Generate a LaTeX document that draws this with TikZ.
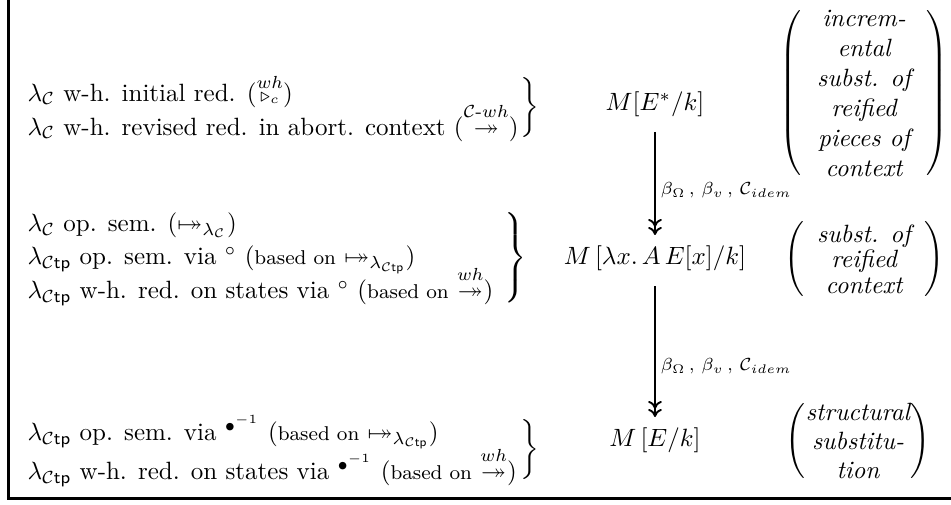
\documentclass[tikz,border=0pt]{standalone}
\usepackage{amsmath,amssymb}
\usetikzlibrary{arrows.meta}
\newcommand{\Ctp}{\mathcal{C}\mathsf{tp}}
\newcommand{\mapsfrom}{\mathrel{\mapstochar\twoheadrightarrow}}
\newcommand{\parblock}[2]{$\left(\parbox{#1}{\centering\itshape #2}\right)$}
\tikzset{
  lefttext/.style={anchor=west,align=left,inner sep=0pt},
  mnode/.style={inner sep=2pt},
  bracenode/.style={inner sep=0pt},
  parennode/.style={inner sep=0pt},
  redarrow/.style={line width=0.75pt,shorten <=4pt,shorten >=2pt,-{Computer Modern Rightarrow[length=3.2pt,width=5.5pt]Computer Modern Rightarrow[length=3.2pt,width=5.5pt]}},
  arrlabel/.style={anchor=west,font=\scriptsize,inner sep=2pt}
}
\begin{document}
\begin{tikzpicture}[x=0.4pt,y=-0.4pt]
\useasboundingbox (0,0) rectangle (951,505);
\draw[line width=1.2pt] (8,-5) -- (8,498) -- (960,498);
% left texts
\node[lefttext] (t1) at (27,112) {$\lambda_{\mathcal C}$ w-h. initial red. ($\smash[t]{\overset{wh}{\scriptstyle\triangleright_c}}$)\\[1.6pt]
$\lambda_{\mathcal C}$ w-h. revised red. in abort. context ($\smash[t]{\overset{\mathcal{C}\text{-}wh}{\twoheadrightarrow}}$)};
\node[lefttext] (t2) at (27,259) {$\lambda_{\mathcal C}$ op. sem. ($\mapsfrom_{\lambda_{\mathcal C}}$)\\[1.4pt]
$\lambda_{\Ctp}$ op. sem. via ${}^{\circ}$ ({\footnotesize based on} $\mapsfrom_{\lambda_{\Ctp}}$)\\[1.4pt]
$\lambda_{\Ctp}$ w-h. red. on states via ${}^{\circ}$ ({\footnotesize based on} $\smash[t]{\overset{wh}{\twoheadrightarrow}}$)};
\node[lefttext] (t3) at (27,451) {$\lambda_{\Ctp}$ op. sem. via ${}^{\bullet^{-1}}$ ({\footnotesize based on} $\mapsfrom_{\lambda_{\Ctp}}$)\\[1.2pt]
$\lambda_{\Ctp}$ w-h. red. on states via ${}^{\bullet^{-1}}$ ({\footnotesize based on} $\smash[t]{\overset{wh}{\twoheadrightarrow}}$)};
% braces
\node[bracenode] (b1) at (528,108) {$\left.\rule{0pt}{13pt}\right\}$};
\node[bracenode] (b2) at (514,258) {$\left.\rule{0pt}{20pt}\right\}$};
\node[bracenode] (b3) at (528,449) {$\left.\rule{0pt}{15pt}\right\}$};
% M nodes
\node[mnode] (m1) at (655,104) {$M[E^*/k]$};
\node[mnode] (m2) at (655,258) {$M\,[\lambda x.\,A\,E[x]/k]$};
\node[mnode] (m3) at (655,440) {$M\,[E/k]$};
% arrows
\draw[redarrow] (m1.south) -- node[arrlabel,pos=0.58] (l1) {$\beta_\Omega\,,\,\beta_v\,,\,\mathcal{C}_{idem}$} (m2.north);
\draw[redarrow] (m2.south) -- node[arrlabel,pos=0.62] (l2) {$\beta_\Omega\,,\,\beta_v\,,\,\mathcal{C}_{idem}$} (m3.north);
% parens
\node[parennode] (p1) at (864,93) {\parblock{50pt}{increm-\\ ental\\ subst. of\\ reified\\ pieces of\\ context}};
\node[parennode] (p2) at (864,259) {\fontsize{10}{10.2}\selectfont\parblock{48pt}{subst. of\\ reified\\ context}};
\node[parennode] (p3) at (858,441) {\fontsize{10}{11.6}\selectfont\parblock{42pt}{structural\\ substitu-\\ tion}};
\end{tikzpicture}
\end{document}
